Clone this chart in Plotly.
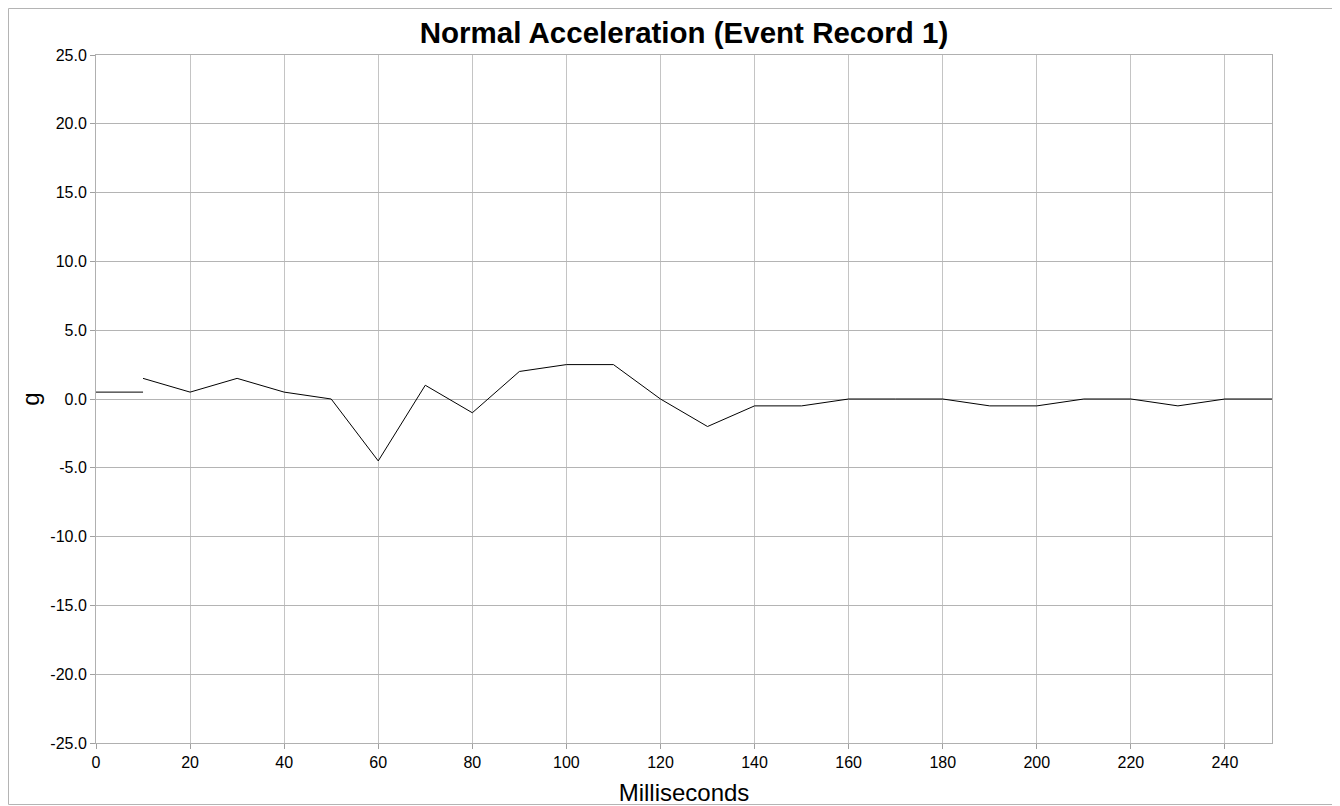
import plotly.graph_objects as go

# Data
first_ms = [0, 10]
first_g = [0.5, 0.5]
ms = [10, 20, 30, 40, 50, 60, 70, 80, 90, 100, 110, 120, 130, 140, 150, 160,
      170, 180, 190, 200, 210, 220, 230, 240, 250]
g_vals = [1.5, 0.5, 1.5, 0.5, 0.0, -4.5, 1.0, -1.0, 2.0, 2.5, 2.5, 0.0, -2.0, -0.5,
          -0.5, 0.0, 0.0, 0.0, -0.5, -0.5, 0.0, 0.0, -0.5, 0.0, 0.0]
x_ticks = list(range(0, 250, 20))
y_ticks = [-25, -20, -15, -10, -5, 0, 5, 10, 15, 20, 25]
y_tick_text = [f"{v:.1f}" for v in y_ticks]

OFF = 8  # page body margin
W, H = 1340 - OFF, 806 - OFF
L, T = 96 - OFF, 55 - OFF
R = W - (1272 - OFF)
B = H - (743 - OFF)

fig = go.Figure()
fig.add_trace(go.Scatter(x=first_ms, y=first_g, mode="lines",
                         line=dict(color="black", width=1), showlegend=False))
fig.add_trace(go.Scatter(x=ms, y=g_vals, mode="lines",
                         line=dict(color="black", width=1), showlegend=False))

font = "Liberation Sans, Arial, sans-serif"
fig.update_layout(
    width=W, height=H,
    margin=dict(l=L, r=R, t=T, b=B, autoexpand=False),
    paper_bgcolor="white", plot_bgcolor="white",
    font=dict(family=font, color="black"),
    title=dict(text="<b>Normal Acceleration (Event Record 1)</b>",
               x=(L + (W - L - R) / 2) / W, xanchor="center",
               y=1 - (33 - OFF) / H, yanchor="middle", yref="container",
               font=dict(size=29.5, family=font, color="black")),
)
fig.update_xaxes(range=[0, 250], tickvals=x_ticks, ticks="outside", ticklen=5,
                 tickcolor="#a0a0a0", tickfont=dict(size=16), automargin=False,
                 showgrid=True, gridcolor="#c4c4c4", gridwidth=1,
                 showline=True, linecolor="#b0b0b0", mirror=True,
                 zeroline=False,
                 title=dict(text="Milliseconds", font=dict(size=24), standoff=19))
fig.update_yaxes(range=[-25, 25], tickvals=y_ticks, ticktext=y_tick_text,
                 ticks="outside", ticklen=5, tickcolor="#a0a0a0",
                 tickfont=dict(size=16), automargin=False,
                 showgrid=True, gridcolor="#b4b4b4", gridwidth=1,
                 showline=True, linecolor="#b0b0b0", mirror=True,
                 zeroline=False,
                 title=dict(text="g", font=dict(size=24), standoff=3))

# outer frame of the figure, along the figure edges
pw, ph = W - L - R, H - T - B
fig.add_shape(type="rect", xref="paper", yref="paper",
              x0=(0.5 - L) / pw, x1=(W + 5 - L) / pw,
              y0=(T + ph - (H - 1.5)) / ph, y1=(T + ph - 0.5) / ph,
              line=dict(color="#b4b4b4", width=1), layer="below")

fig.write_html("out.html")
